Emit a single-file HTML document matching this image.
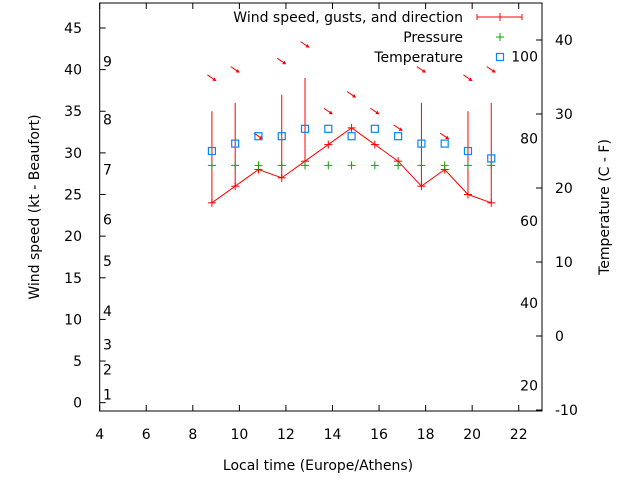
<!DOCTYPE html>
<html><head><meta charset="utf-8"><style>
body{margin:0;background:#fff;}
svg{display:block;font-family:"DejaVu Sans","Liberation Sans",sans-serif;font-size:14px;}
</style></head><body>
<svg id="c" width="640" height="480" xmlns="http://www.w3.org/2000/svg"></svg>
<script>
const hours=[8.82,9.82,10.82,11.82,12.82,13.82,14.82,15.82,16.82,17.82,18.82,19.82,20.82];
const windSpeed=[24,26,28,27,29,31,33,31,29,26,28,25,24];
const gusts=[35,36,null,37,39,null,null,null,null,36,null,35,36];
const pressure=[28.5,28.5,28.5,28.5,28.5,28.5,28.5,28.5,28.5,28.5,28.5,28.5,28.5];
const tempC=[25,26,27,27,28,28,27,28,27,26,26,25,24];
const xTicks=[4,6,8,10,12,14,16,18,20,22];
const yTicks=[0,5,10,15,20,25,30,35,40,45];
const beaufortLabels=[1,2,3,4,5,6,7,8,9];
const beaufortKt=[1,4,7,11,17,22,28,34,41];
const cTicks=[-10,0,10,20,30,40];
const fTicks=[20,40,60,80,100];

const L=99.7,R=542,T=3,B=411;
const X=h=>L+(h-4)*(R-L)/19;
const Y=v=>B-(v+1)*(B-T)/49;
const YC=c=>336-c*7.4;
const svg=document.getElementById('c');
const NS='http://www.w3.org/2000/svg';
function mk(tag,a,p){const e=document.createElementNS(NS,tag);for(const k in a)e.setAttribute(k,a[k]);(p||svg).appendChild(e);return e;}
function txt(s,x,y,anchor,p){const e=mk('text',{x:x,y:y,'text-anchor':anchor||'start',fill:'#000'},p);e.textContent=s;return e;}

const frame=mk('rect',{x:L,y:T,width:R-L,height:B-T,fill:'none',stroke:'#000','stroke-width':1});



const xa=mk('g',{});


xTicks.forEach(t=>{const x=X(t);mk('line',{x1:x,x2:x,y1:B,y2:B-6,stroke:'#000'},xa);mk('line',{x1:x,x2:x,y1:T,y2:T+6,stroke:'#000'},xa);txt(String(t),x,439,'middle',xa);});
const ya=mk('g',{});


yTicks.forEach(t=>{const y=Y(t);mk('line',{x1:L,x2:L+6,y1:y,y2:y,stroke:'#000'},ya);txt(String(t),82,y+5,'end',ya);});
const bf=mk('g',{});


beaufortLabels.forEach((b,i)=>txt(String(b),103,Y(beaufortKt[i])+5,'start',bf));
const ra=mk('g',{});


cTicks.forEach(c=>{const y=YC(c);mk('line',{x1:R,x2:R-6,y1:y,y2:y,stroke:'#000'},ra);txt(String(c),555,y+5,'start',ra);});
const fa=mk('g',{});


fTicks.forEach(f=>txt(String(f),538,YC((f-32)*5/9)+5,'end',fa));

const t1=txt('Wind speed (kt - Beaufort)',0,0,'middle');t1.setAttribute('transform','translate(39,207) rotate(-90)');


const t2=txt('Temperature (C - F)',0,0,'middle');t2.setAttribute('transform','translate(609,207) rotate(-90)');


const t3=txt('Local time (Europe/Athens)',318,470,'middle');



const wg=mk('g',{stroke:'#f00',fill:'none','stroke-width':1});


mk('polyline',{points:hours.map((h,i)=>X(h)+','+Y(windSpeed[i])).join(' ')},wg);
hours.forEach((h,i)=>{
  const x=X(h),y=Y(windSpeed[i]);
  mk('line',{x1:x-4,x2:x+4,y1:y,y2:y},wg);mk('line',{x1:x,x2:x,y1:y-4,y2:y+4},wg);
  if(gusts[i]!=null){const b=mk('line',{x1:x,x2:x,y1:y,y2:Y(gusts[i])},wg);}
  const top=Math.max(gusts[i]||0,windSpeed[i])+4, ay=Y(top);
  const a=mk('g',{},wg);
  
  
  mk('line',{x1:x-4.5,y1:ay-3,x2:x+4,y2:ay+2.7},a);
  mk('polygon',{points:(x+4.5)+','+(ay+3)+' '+(x+0.5)+','+(ay+2.8)+' '+(x+2.6)+','+(ay-0.6),fill:'#f00',stroke:'none'},a);
});
const pg=mk('g',{stroke:'#0a0','stroke-width':1});


hours.forEach((h,i)=>{const x=X(h),y=Y(pressure[i]);mk('line',{x1:x-4,x2:x+4,y1:y,y2:y},pg);mk('line',{x1:x,x2:x,y1:y-4,y2:y+4},pg);});
const tg=mk('g',{stroke:'#08f',fill:'none','stroke-width':1.2});


hours.forEach((h,i)=>{const x=X(h),y=YC(tempC[i]);mk('rect',{x:x-3.5,y:y-3.5,width:7,height:7},tg);});

const lg=mk('g',{});


txt('Wind speed, gusts, and direction',463,22,'end',lg);
mk('line',{x1:477,x2:522,y1:17,y2:17,stroke:'#f00'},lg);
mk('line',{x1:477,x2:477,y1:14,y2:20,stroke:'#f00'},lg);
mk('line',{x1:522,x2:522,y1:14,y2:20,stroke:'#f00'},lg);
mk('line',{x1:500,x2:500,y1:13,y2:21,stroke:'#f00'},lg);
txt('Pressure',463,42,'end',lg);
mk('line',{x1:496,x2:504,y1:37,y2:37,stroke:'#0a0'},lg);mk('line',{x1:500,x2:500,y1:33,y2:41,stroke:'#0a0'},lg);
txt('Temperature',463,62,'end',lg);
mk('rect',{x:496.5,y:53.5,width:7,height:7,fill:'none',stroke:'#08f','stroke-width':1.2},lg);
</script>
</body></html>
